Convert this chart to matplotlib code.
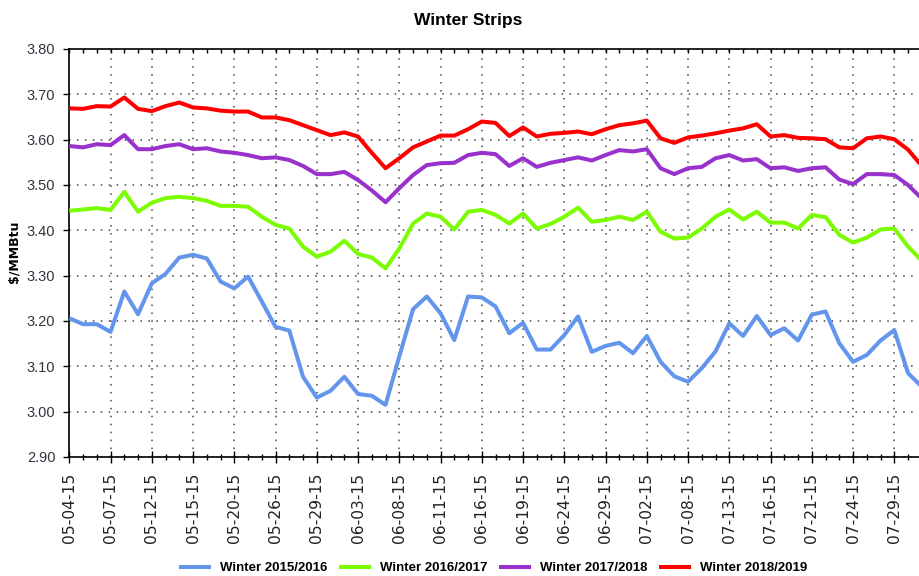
import matplotlib
matplotlib.use("Agg")
import matplotlib.pyplot as plt
from matplotlib.ticker import FixedLocator, MultipleLocator, FormatStrFormatter

dates = ["05-04-15", "05-05-15", "05-06-15", "05-07-15", "05-08-15", "05-11-15", "05-12-15",
         "05-13-15", "05-14-15", "05-15-15", "05-18-15", "05-19-15", "05-20-15", "05-21-15",
         "05-22-15", "05-26-15", "05-27-15", "05-28-15", "05-29-15", "06-01-15", "06-02-15",
         "06-03-15", "06-04-15", "06-05-15", "06-08-15", "06-09-15", "06-10-15", "06-11-15",
         "06-12-15", "06-15-15", "06-16-15", "06-17-15", "06-18-15", "06-19-15", "06-22-15",
         "06-23-15", "06-24-15", "06-25-15", "06-26-15", "06-29-15", "06-30-15", "07-01-15",
         "07-02-15", "07-06-15", "07-07-15", "07-08-15", "07-09-15", "07-10-15", "07-13-15",
         "07-14-15", "07-15-15", "07-16-15", "07-17-15", "07-20-15", "07-21-15", "07-22-15",
         "07-23-15", "07-24-15", "07-27-15", "07-28-15", "07-29-15", "07-30-15", "07-31-15"]

winter_2015_2016 = [3.206, 3.193, 3.193, 3.176, 3.265, 3.215, 3.283, 3.304, 3.340, 3.346,
                    3.338, 3.287, 3.272, 3.298, 3.243, 3.187, 3.179, 3.077, 3.031, 3.046,
                    3.077, 3.039, 3.035, 3.015, 3.122, 3.226, 3.254, 3.217, 3.158, 3.254,
                    3.252, 3.232, 3.173, 3.196, 3.137, 3.137, 3.169, 3.210, 3.132, 3.145,
                    3.152, 3.129, 3.167, 3.110, 3.078, 3.066, 3.096, 3.133, 3.195, 3.167,
                    3.211, 3.169, 3.184, 3.157, 3.214, 3.221, 3.151, 3.110, 3.125, 3.157,
                    3.180, 3.085, 3.055]
winter_2016_2017 = [3.443, 3.446, 3.449, 3.445, 3.485, 3.441, 3.461, 3.471, 3.474, 3.471,
                    3.465, 3.454, 3.454, 3.452, 3.430, 3.412, 3.404, 3.364, 3.342, 3.353,
                    3.377, 3.348, 3.340, 3.316, 3.360, 3.415, 3.437, 3.430, 3.402, 3.441,
                    3.445, 3.434, 3.415, 3.437, 3.404, 3.414, 3.430, 3.450, 3.419, 3.423,
                    3.430, 3.423, 3.441, 3.397, 3.382, 3.384, 3.404, 3.430, 3.446, 3.424,
                    3.441, 3.417, 3.417, 3.404, 3.434, 3.429, 3.390, 3.373, 3.384, 3.402,
                    3.404, 3.364, 3.333]
winter_2017_2018 = [3.586, 3.583, 3.590, 3.588, 3.610, 3.579, 3.579, 3.586, 3.590, 3.579,
                    3.581, 3.574, 3.571, 3.566, 3.559, 3.561, 3.555, 3.542, 3.524, 3.524,
                    3.529, 3.511, 3.488, 3.462, 3.493, 3.522, 3.544, 3.548, 3.549, 3.566,
                    3.571, 3.568, 3.542, 3.559, 3.540, 3.549, 3.555, 3.561, 3.554, 3.566,
                    3.577, 3.574, 3.579, 3.537, 3.524, 3.537, 3.540, 3.559, 3.566, 3.554,
                    3.557, 3.537, 3.539, 3.531, 3.537, 3.539, 3.512, 3.502, 3.524, 3.524,
                    3.522, 3.500, 3.470]
winter_2018_2019 = [3.669, 3.668, 3.674, 3.673, 3.693, 3.668, 3.663, 3.674, 3.682, 3.671,
                    3.669, 3.664, 3.662, 3.662, 3.649, 3.649, 3.643, 3.632, 3.621, 3.610,
                    3.616, 3.607, 3.571, 3.537, 3.559, 3.583, 3.596, 3.609, 3.609, 3.623,
                    3.640, 3.637, 3.608, 3.627, 3.607, 3.613, 3.615, 3.618, 3.612, 3.623,
                    3.632, 3.636, 3.642, 3.603, 3.593, 3.605, 3.609, 3.614, 3.620, 3.625,
                    3.634, 3.607, 3.610, 3.604, 3.603, 3.601, 3.583, 3.581, 3.603, 3.607,
                    3.601, 3.578, 3.542]

series_names = ["Winter 2015/2016", "Winter 2016/2017", "Winter 2017/2018", "Winter 2018/2019"]
series_colors = ["#6495ED", "#7CFC00", "#9932CC", "#FF0000"]

SANS = ["Liberation Sans", "DejaVu Sans"]

W, H = 919, 576
fig = plt.figure(figsize=(W / 100, H / 100), dpi=100)

x_left_px, y_top_px, y_bot_px = 69.3, 49, 457
px_per_day = 13.75
xmax = 62.5
ax = fig.add_axes([x_left_px / W, (H - y_bot_px) / H,
                   xmax * px_per_day / W, (y_bot_px - y_top_px) / H])

x = list(range(len(dates)))
for vals, name, col in zip([winter_2015_2016, winter_2016_2017, winter_2017_2018, winter_2018_2019],
                           series_names, series_colors):
    ax.plot(x, vals, color=col, lw=2.9, label=name, solid_joinstyle="round",
            solid_capstyle="butt", zorder=3)

ax.set_xlim(0, xmax)
ax.set_ylim(2.90, 3.80)

major_idx = list(range(0, len(dates), 3))
ax.xaxis.set_major_locator(FixedLocator(major_idx))
ax.xaxis.set_minor_locator(FixedLocator(x))
ax.set_xticklabels([dates[i] for i in major_idx], rotation=90,
                   fontsize=11.2, family="DejaVu Sans", color="#222222")
ax.yaxis.set_major_locator(MultipleLocator(0.10))
ax.yaxis.set_major_formatter(FormatStrFormatter("%.2f"))
for lab in ax.get_yticklabels():
    lab.set_family(SANS)
    lab.set_fontsize(10.5)
    lab.set_color("#333340")

ax.tick_params(axis="x", which="major", direction="inout", length=8.5, width=1.0, pad=7)
ax.tick_params(axis="x", which="minor", direction="inout", length=5, width=1.0)
ax.tick_params(axis="y", which="major", direction="out", length=4, width=1.0, pad=6)

ax.grid(True, which="major", axis="both", color="#444444", lw=1.1,
        linestyle=(0, (1, 4.2)), zorder=1)

ax.spines["right"].set_visible(False)
for s in ["left", "bottom", "top"]:
    ax.spines[s].set_linewidth(1.2)
    ax.spines[s].set_color("black")

# top ticks (inward)
ax2 = ax.twiny()
ax2.set_xlim(ax.get_xlim())
ax2.xaxis.set_major_locator(FixedLocator(major_idx))
ax2.xaxis.set_minor_locator(FixedLocator(x))
ax2.tick_params(axis="x", which="both", direction="in", length=3, width=1.0,
                labeltop=False, top=True)
for s in ax2.spines.values():
    s.set_visible(False)

ax.set_ylabel("$/MMBtu", fontsize=9, fontweight="bold", family="DejaVu Sans")
ax.yaxis.set_label_coords((21 - x_left_px) / (xmax * px_per_day), (y_bot_px - 252) / (y_bot_px - y_top_px))

fig.text(468 / W, 1 - 21 / H, "Winter Strips", ha="center", va="center",
         fontsize=12.5, fontweight="bold", family=SANS)

handles, labels = ax.get_legend_handles_labels()
leg = fig.legend(handles, labels, loc="center", bbox_to_anchor=(493 / W, 1 - 568 / H),
                 ncol=4, frameon=False, handlelength=2.4, handletextpad=0.68,
                 columnspacing=0.9, prop={"family": SANS, "weight": "bold", "size": 9.5})

fig.savefig("out.png", dpi=100)
